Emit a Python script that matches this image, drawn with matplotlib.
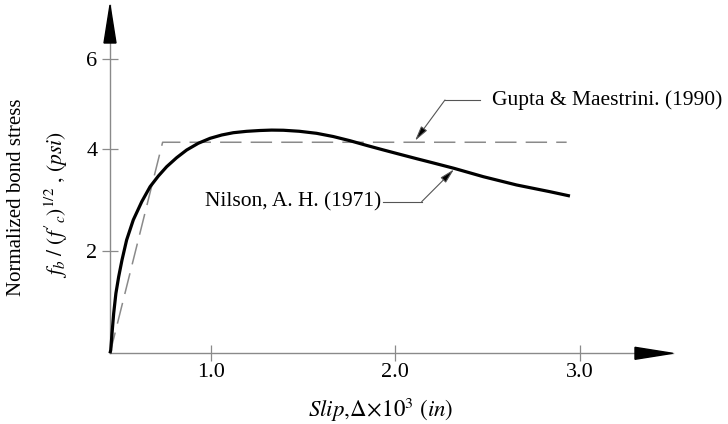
import matplotlib
matplotlib.use("Agg")
import matplotlib.pyplot as plt
from matplotlib.patches import Polygon

plt.rcParams['font.family'] = ['Liberation Serif', 'DejaVu Serif']
plt.rcParams['mathtext.fontset'] = 'stix'

# Nilson, A. H. (1971) curve (slip x10^3 in, normalized bond stress)
nilson_slip = [0.455, 0.459, 0.466, 0.475, 0.487, 0.502, 0.520, 0.545, 0.581,
               0.627, 0.672, 0.717, 0.762, 0.816, 0.870, 0.933, 0.997, 1.060,
               1.123, 1.195, 1.267, 1.330, 1.394, 1.480, 1.574, 1.664, 1.755,
               1.845, 1.935, 2.025, 2.116, 2.206, 2.318, 2.477, 2.657, 2.838, 2.946]
nilson_stress = [0.0, 0.065, 0.391, 0.783, 1.174, 1.499, 1.826, 2.217, 2.609,
                 2.967, 3.260, 3.470, 3.652, 3.828, 3.978, 4.110, 4.207, 4.272,
                 4.317, 4.344, 4.360, 4.368, 4.365, 4.345, 4.305, 4.242, 4.160,
                 4.068, 3.980, 3.894, 3.808, 3.725, 3.620, 3.456, 3.294, 3.162, 3.078]

# Gupta & Maestrini (1990) bilinear model
gupta_slip = [0.455, 0.740, 2.928]
gupta_stress = [0.0, 4.13, 4.13]

x_ticks = [1.0, 2.0, 3.0]
x_tick_labels = ['1.0', '2.0', '3.0']
y_ticks = [2, 4, 5.75]
y_tick_labels = ['2', '4', '6']

W, H = 728, 424
fig = plt.figure(figsize=(W / 100, H / 100), dpi=100)
ox, oy = 110, 353.3
tx, ty = 672.7, 5
ax = fig.add_axes([ox / W, 1 - oy / H, (tx - ox) / W, (oy - ty) / H])

xmin = 0.455
px_per_x = 184.65
px_per_y = 51.1
ax.set_xlim(xmin, xmin + (tx - ox) / px_per_x)
ax.set_ylim(0, (oy - ty) / px_per_y)

axis_color = '#8a8a8a'
for s in ['top', 'right']:
    ax.spines[s].set_visible(False)
for s in ['left', 'bottom']:
    ax.spines[s].set_color(axis_color)
    ax.spines[s].set_linewidth(1.0)

ax.plot(gupta_slip, gupta_stress, color='#8a8a8a', lw=1.1,
        dashes=(14, 6), clip_on=False, zorder=2)
ax.plot(nilson_slip, nilson_stress, color='black', lw=2.3,
        solid_capstyle='butt', solid_joinstyle='round', clip_on=False, zorder=3)

ax.set_xticks(x_ticks)
ax.set_xticklabels(x_tick_labels)
ax.set_yticks(y_ticks)
ax.set_yticklabels(y_tick_labels)
ax.tick_params(axis='both', direction='inout', length=12, width=0.9,
               color=axis_color, labelsize=16)
ax.tick_params(axis='x', pad=1)
ax.tick_params(axis='y', pad=3)

# arrow heads on the axes
xa = Polygon([[1.0, 0], [1 - 37.7 / (tx - ox), 6 / (oy - ty)],
              [1 - 37.7 / (tx - ox), -6 / (oy - ty)]], closed=True,
             transform=ax.transAxes, color='black', clip_on=False, zorder=5)
ya = Polygon([[0, 1.0], [6 / (tx - ox), 1 - 38 / (oy - ty)],
              [-6 / (tx - ox), 1 - 38 / (oy - ty)]], closed=True,
             transform=ax.transAxes, color='black', clip_on=False, zorder=5)
ax.add_patch(xa)
ax.add_patch(ya)

# axis labels
fig.text(381 / W, 1 - 410 / H,
         r"$\mathit{Slip}\mathrm{,}\Delta\!\times\!\mathrm{10}^{3}\ \mathrm{(}\mathit{in}\mathrm{)}$",
         ha='center', va='center', fontsize=16.5)
fig.text(17 / W, 1 - 197 / H, 'Normalized bond stress', rotation=90,
         ha='center', va='center', fontsize=15)
fig.text(56 / W, 1 - 205 / H,
         r"$f_b\ \mathrm{/}\ \mathrm{(}f'_c\mathrm{)}^{1/2}\ \mathrm{,}\ \mathrm{(}psi\mathrm{)}$",
         rotation=90, ha='center', va='center', fontsize=15.5)

# annotations
lead = '#555555'
# Gupta
g_text = (2.522, 4.957)
g_h0 = (2.459, 4.957)
g_elbow = (2.269, 4.957)
g_tip = (2.107, 4.16)
ax.text(*g_text, 'Gupta & Maestrini. (1990)', ha='left', va='center', fontsize=15.5)
ax.plot([g_h0[0], g_elbow[0]], [g_h0[1], g_elbow[1]], color=lead, lw=0.8)
ax.annotate('', xy=g_tip, xytext=g_elbow,
            arrowprops=dict(arrowstyle='-|>,head_length=0.9,head_width=0.22',
                            ec=lead, fc='black', lw=0.8, shrinkA=0, shrinkB=0))
# Nilson
n_text = (1.926, 2.967)
n_h0 = (1.933, 2.967)
n_elbow = (2.143, 2.967)
n_tip = (2.318, 3.60)
ax.text(*n_text, 'Nilson, A. H. (1971)', ha='right', va='center', fontsize=15.5)
ax.plot([n_h0[0], n_elbow[0]], [n_h0[1], n_elbow[1]], color=lead, lw=0.8)
ax.annotate('', xy=n_tip, xytext=n_elbow,
            arrowprops=dict(arrowstyle='-|>,head_length=0.9,head_width=0.22',
                            ec=lead, fc='black', lw=0.8, shrinkA=0, shrinkB=0))

fig.savefig('out.png', dpi=100)
